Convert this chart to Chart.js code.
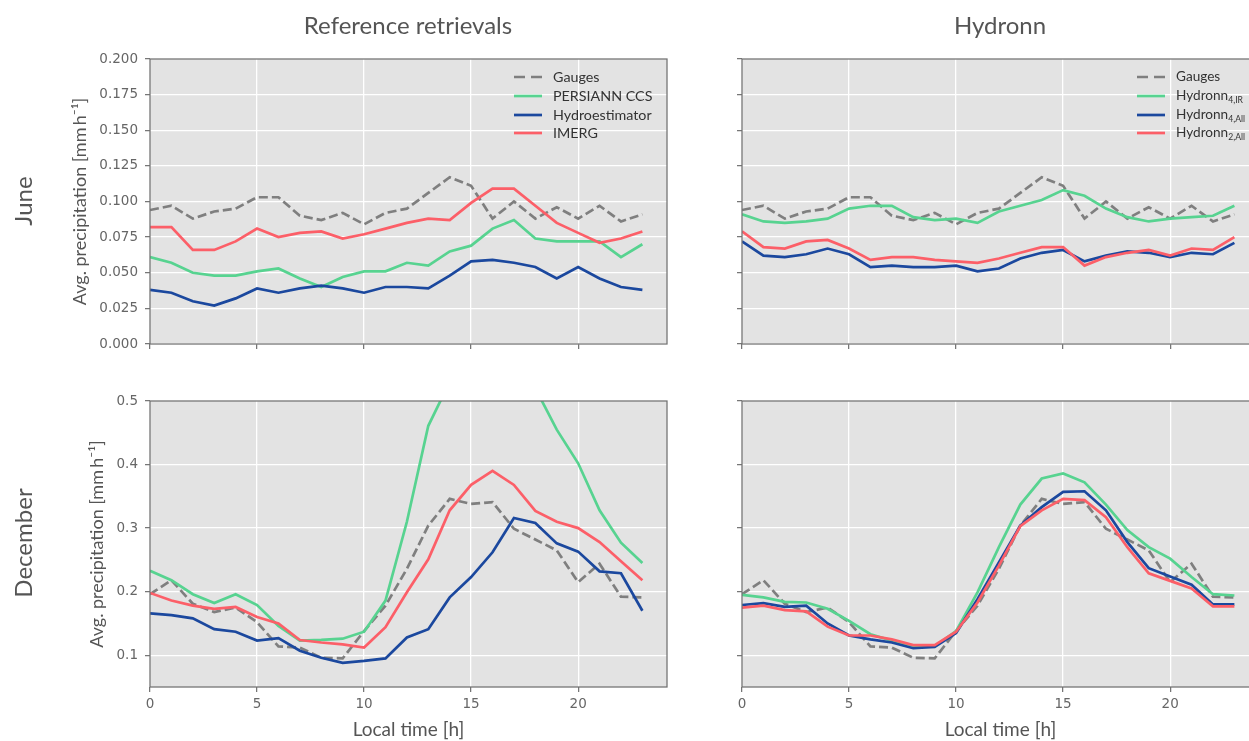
<!DOCTYPE html>
<html><head><meta charset="utf-8">
<script src="https://cdn.jsdelivr.net/npm/chart.js@4.4.0/dist/chart.umd.min.js"></script>
<style>
html,body{margin:0;padding:0;width:1249px;height:741px;overflow:hidden;background:#fff;}
.cv{position:absolute;}
.txt{position:absolute;font-family:Lato,sans-serif;color:#555;white-space:nowrap;}
.lg{position:absolute;font-family:Lato,sans-serif;color:#333;font-size:14.3px;white-space:nowrap;line-height:19px;}
.lg.r{font-size:13.6px;}
.lg sub{font-size:8.6px;vertical-align:-3px;line-height:0;}
</style></head><body>
<canvas id="c0" class="cv" style="left:0;top:0" width="700" height="360"></canvas>
<canvas id="c1" class="cv" style="left:600px;top:0" width="700" height="360"></canvas>
<canvas id="c2" class="cv" style="left:0;top:370px" width="700" height="371"></canvas>
<canvas id="c3" class="cv" style="left:600px;top:370px" width="700" height="371"></canvas>
<div class="txt" style="left:408px;top:24px;font-size:24px;transform:translate(-50%,-50%)">Reference retrievals</div>
<div class="txt" style="left:1000px;top:24px;font-size:24px;transform:translate(-50%,-50%)">Hydronn</div>
<div class="txt" style="left:22px;top:201px;font-size:24px;transform:translate(-50%,-50%) rotate(-90deg)">June</div>
<div class="txt" style="left:22px;top:543px;font-size:24px;transform:translate(-50%,-50%) rotate(-90deg)">December</div>
<script>
// ---- data ----
const hours = [0,1,2,3,4,5,6,7,8,9,10,11,12,13,14,15,16,17,18,19,20,21,22,23];
const xTicks = [0,5,10,15,20];
const juneYTicks = [0,0.025,0.05,0.075,0.1,0.125,0.15,0.175,0.2];
const decYTicks = [0.1,0.2,0.3,0.4,0.5];

const leftLabels = ['Gauges','PERSIANN CCS','Hydroestimator','IMERG'];
const rightLabels = ['Gauges','Hydronn','Hydronn','Hydronn'];
const rightSubs = ['','4,IR','4,All','2,All'];

const juneGauges   = [0.094,0.097,0.088,0.093,0.095,0.103,0.103,0.090,0.087,0.092,0.084,0.092,0.095,0.106,0.117,0.111,0.088,0.100,0.088,0.096,0.088,0.097,0.086,0.091];
const junePersiann = [0.061,0.057,0.050,0.048,0.048,0.051,0.053,0.046,0.040,0.047,0.051,0.051,0.057,0.055,0.065,0.069,0.081,0.087,0.074,0.072,0.072,0.072,0.061,0.070];
const juneHydroest = [0.038,0.036,0.030,0.027,0.032,0.039,0.036,0.039,0.041,0.039,0.036,0.040,0.040,0.039,0.048,0.058,0.059,0.057,0.054,0.046,0.054,0.046,0.040,0.038];
const juneImerg    = [0.082,0.082,0.066,0.066,0.072,0.081,0.075,0.078,0.079,0.074,0.077,0.081,0.085,0.088,0.087,0.099,0.109,0.109,0.097,0.085,0.078,0.071,0.074,0.079];
const juneH4IR     = [0.091,0.086,0.085,0.086,0.088,0.095,0.097,0.097,0.089,0.087,0.088,0.085,0.093,0.097,0.101,0.108,0.104,0.095,0.089,0.086,0.088,0.089,0.090,0.097];
const juneH4All    = [0.072,0.062,0.061,0.063,0.067,0.063,0.054,0.055,0.054,0.054,0.055,0.051,0.053,0.060,0.064,0.066,0.058,0.062,0.065,0.064,0.061,0.064,0.063,0.071];
const juneH2All    = [0.079,0.068,0.067,0.072,0.073,0.067,0.059,0.061,0.061,0.059,0.058,0.057,0.060,0.064,0.068,0.068,0.055,0.061,0.064,0.066,0.062,0.067,0.066,0.075];

const decGauges    = [0.196,0.218,0.181,0.168,0.175,0.152,0.114,0.112,0.096,0.095,0.138,0.178,0.236,0.304,0.346,0.338,0.341,0.299,0.282,0.265,0.215,0.244,0.192,0.191];
const decPersiann  = [0.233,0.218,0.196,0.182,0.196,0.179,0.146,0.123,0.124,0.126,0.137,0.186,0.310,0.461,0.530,0.560,0.570,0.550,0.520,0.455,0.402,0.328,0.277,0.245];
const decHydroest  = [0.166,0.163,0.158,0.141,0.137,0.123,0.127,0.107,0.096,0.088,0.091,0.095,0.128,0.141,0.191,0.223,0.262,0.316,0.308,0.276,0.263,0.232,0.229,0.170];
const decImerg     = [0.198,0.186,0.178,0.173,0.176,0.160,0.150,0.124,0.120,0.117,0.112,0.144,0.199,0.251,0.328,0.368,0.390,0.368,0.327,0.310,0.300,0.278,0.248,0.218];
const decH4IR      = [0.195,0.191,0.184,0.183,0.173,0.154,0.133,0.123,0.115,0.114,0.138,0.199,0.270,0.337,0.378,0.386,0.372,0.337,0.297,0.270,0.252,0.223,0.196,0.194];
const decH4All     = [0.179,0.182,0.176,0.178,0.150,0.131,0.125,0.120,0.111,0.113,0.135,0.188,0.246,0.304,0.333,0.357,0.358,0.328,0.278,0.237,0.224,0.211,0.180,0.180];
const decH2All     = [0.175,0.178,0.171,0.169,0.145,0.131,0.131,0.125,0.116,0.116,0.137,0.183,0.241,0.303,0.328,0.346,0.344,0.317,0.270,0.229,0.217,0.205,0.177,0.177];

// ---- styling ----
const COLORS = ['#7f7f7f','#57d390','#1b489e','#fc5f68'];
const DASHES = [[9,4],[],[],[]];
const LEGEND_DASHES = ['11 6','','',''];
const YTITLE = 'Avg. precipitation [mm\u2009h\u207B\u00B9]';

const panelPlugin = {
  id:'panel',
  beforeDraw(chart){
    const a = chart.chartArea, c = chart.ctx;
    c.save(); c.fillStyle = '#e3e3e3';
    c.fillRect(a.left, a.top, a.right-a.left, a.bottom-a.top); c.restore();
  },
  afterDatasetsDraw(chart){
    const a = chart.chartArea, c = chart.ctx;
    c.save(); c.strokeStyle = '#707070'; c.lineWidth = 1.25;
    c.strokeRect(a.left, a.top, a.right-a.left, a.bottom-a.top); c.restore();
  }
};

function series(vals, i, label){
  return {label, data: hours.map((h,k)=>({x:h, y:vals[k]})),
    borderColor: COLORS[i], backgroundColor: COLORS[i], borderWidth: 2.7,
    borderDash: DASHES[i], pointRadius: 0, tension: 0, fill: false, clip: 0,
    order: 4 - i};
}

function makeChart(id, arrays, labels, o){
  const datasets = arrays.map((a,i)=>series(a, i, labels[i]));
  return new Chart(document.getElementById(id), {
    type:'line', data:{datasets}, plugins:[panelPlugin],
    options:{
      responsive:false, animation:false, events:[],
      layout:{padding:o.pad},
      plugins:{legend:{display:false}, tooltip:{enabled:false}},
      scales:{
        x:{type:'linear', min:0, max:24.15,
          afterBuildTicks: s=>{ s.ticks = xTicks.map(v=>({value:v})); },
          afterFit: s=>{ s.height = o.xH; },
          grid:{color:'#ffffff', lineWidth:1.3, tickColor:'#707070', tickLength:5, tickWidth:1.2},
          border:{display:false},
          ticks:{display:o.xLab, padding:4, color:'#666', font:{family:'DejaVu Sans', size:13.5}, maxRotation:0, callback:v=>String(v)},
          title:{display:o.xLab, text:'Local time [h]', color:'#555', font:{family:'Lato', size:19}, padding:{top:0,bottom:0}}
        },
        y:{type:'linear', min:o.yMin, max:o.yMax,
          afterBuildTicks: s=>{ s.ticks = o.yTicks.map(v=>({value:v})); },
          afterFit: s=>{ s.width = o.yW; },
          grid:{color:'#ffffff', lineWidth:1.3, tickColor:'#707070', tickLength:5, tickWidth:1.2},
          border:{display:false},
          ticks:{display:o.yLab, padding:7, color:'#666', font:{family:'DejaVu Sans', size:13.5}, callback:v=>v.toFixed(o.dec)},
          title:{display:o.yLab, text:YTITLE, color:'#555', font:{family:'Lato', size:18}, padding:{top:o.yTitlePad, bottom:0}}
        }
      }
    }
  });
}

makeChart('c0', [juneGauges,junePersiann,juneHydroest,juneImerg], leftLabels,
  {pad:{top:59,right:33,bottom:8,left:0}, xH:8, xLab:false, yW:150, yLab:true, yMin:0, yMax:0.2, yTicks:juneYTicks, dec:3, yTitlePad:69.2});
makeChart('c1', [juneGauges,juneH4IR,juneH4All,juneH2All], rightLabels,
  {pad:{top:59,right:41,bottom:8,left:0}, xH:8, xLab:false, yW:142, yLab:false, yMin:0, yMax:0.2, yTicks:juneYTicks, dec:3, yTitlePad:0});
makeChart('c2', [decGauges,decPersiann,decHydroest,decImerg], leftLabels,
  {pad:{top:31,right:33,bottom:0,left:0}, xH:54, xLab:true, yW:150, yLab:true, yMin:0.05, yMax:0.5, yTicks:decYTicks, dec:1, yTitlePad:86.2});
makeChart('c3', [decGauges,decH4IR,decH4All,decH2All], rightLabels,
  {pad:{top:31,right:41,bottom:0,left:0}, xH:54, xLab:true, yW:142, yLab:false, yMin:0.05, yMax:0.5, yTicks:decYTicks, dec:1, yTitlePad:0});

// ---- legends (HTML) ----
function legend(x0, textX, yc0, labels, subs, cls){
  labels.forEach((lab,i)=>{
    const yc = yc0 + i*18.9;
    const svgNS = 'http://www.w3.org/2000/svg';
    const svg = document.createElementNS(svgNS,'svg');
    svg.setAttribute('width','28'); svg.setAttribute('height','6');
    svg.style.position='absolute'; svg.style.left=x0+'px'; svg.style.top=(yc-3)+'px';
    const ln = document.createElementNS(svgNS,'line');
    ln.setAttribute('x1','0'); ln.setAttribute('x2','28'); ln.setAttribute('y1','3'); ln.setAttribute('y2','3');
    ln.setAttribute('stroke', COLORS[i]); ln.setAttribute('stroke-width','2.7');
    if (LEGEND_DASHES[i]) ln.setAttribute('stroke-dasharray', LEGEND_DASHES[i]);
    svg.appendChild(ln); document.body.appendChild(svg);
    const d = document.createElement('div'); d.className='lg' + (cls ? ' ' + cls : '');
    d.style.left = textX+'px'; d.style.top = (yc-10)+'px';
    d.textContent = lab;
    if (subs && subs[i]) { const s = document.createElement('sub'); s.textContent = subs[i]; d.appendChild(s); }
    document.body.appendChild(d);
  });
}
legend(514, 553, 76.7, leftLabels, null, '');
legend(1137, 1176, 76.7, rightLabels, rightSubs, 'r');
</script>
</body></html>
